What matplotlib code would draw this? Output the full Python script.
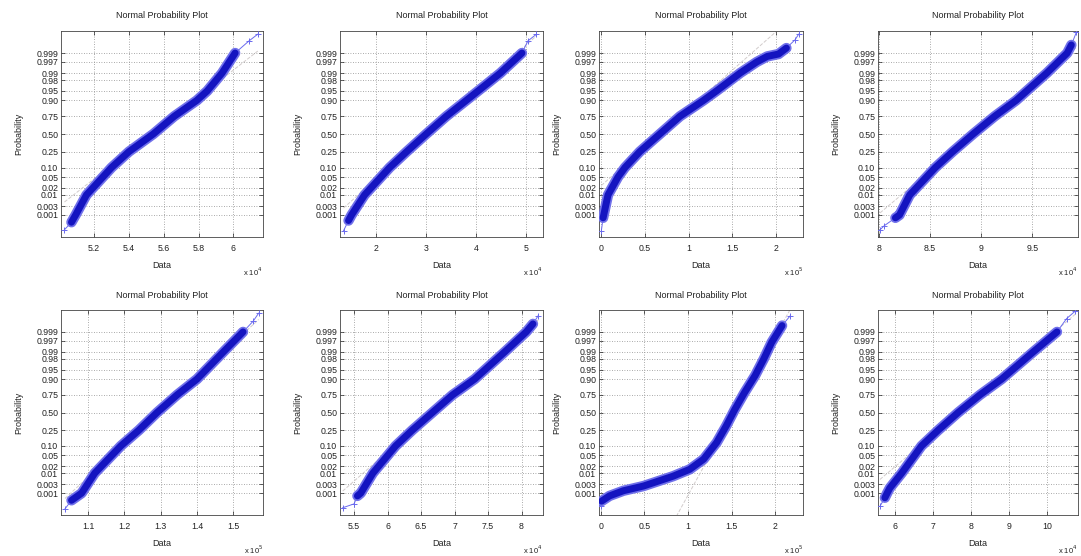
import matplotlib
matplotlib.use('Agg')
import matplotlib.pyplot as plt
import numpy as np
from statistics import NormalDist

plt.rcParams['font.family'] = ['Liberation Sans', 'DejaVu Sans']

# ---------------- data ----------------
prob_ticks = [0.001, 0.003, 0.01, 0.02, 0.05, 0.10, 0.25, 0.50, 0.75, 0.90, 0.95, 0.98, 0.99, 0.997, 0.999]
prob_labels = ['0.001', '0.003', '0.01', '0.02', '0.05', '0.10', '0.25', '0.50', '0.75', '0.90',
               '0.95', '0.98', '0.99', '0.997', '0.999']

# panel 1 (x 10^4)
p1_prob = [0.00013, 0.00038, 0.001, 0.01, 0.10, 0.25, 0.50, 0.75, 0.90, 0.95, 0.99, 0.999, 0.99981, 0.99993]
p1_data = [5.03, 5.07, 5.094, 5.156, 5.30, 5.40, 5.54, 5.66, 5.79, 5.85, 5.935, 6.01, 6.09, 6.14]
# panel 2 (x 10^4)
p2_prob = [0.00011, 0.00048, 0.001, 0.01, 0.10, 0.25, 0.50, 0.75, 0.90, 0.99, 0.999, 0.99981, 0.99993]
p2_data = [1.35, 1.45, 1.51, 1.77, 2.27, 2.61, 3.00, 3.40, 3.80, 4.48, 4.91, 5.03, 5.20]
# panel 3 (x 10^5)
p3_prob = [0.00011, 0.00069, 0.001, 0.01, 0.05, 0.10, 0.25, 0.50, 0.75, 0.90, 0.95, 0.99, 0.997,
           0.99846, 0.99886, 0.99948, 0.99984, 0.99993]
p3_data = [0.00, 0.02, 0.027, 0.076, 0.19, 0.27, 0.44, 0.67, 0.90, 1.17, 1.32, 1.59, 1.78,
           1.90, 2.03, 2.12, 2.22, 2.26]
# panel 4 (x 10^4)
p4_prob = [0.00013, 0.00023, 0.00069, 0.001, 0.01, 0.10, 0.25, 0.50, 0.75, 0.90, 0.99, 0.999, 0.99966, 0.99995]
p4_data = [8.01, 8.05, 8.16, 8.20, 8.30, 8.55, 8.72, 8.92, 9.13, 9.34, 9.64, 9.84, 9.88, 9.93]
# panel 5 (x 10^5)
p5_prob = [0.00011, 0.00038, 0.001, 0.01, 0.10, 0.25, 0.50, 0.75, 0.90, 0.99, 0.999, 0.99977, 0.99993]
p5_data = [1.036, 1.054, 1.082, 1.118, 1.19, 1.24, 1.29, 1.345, 1.40, 1.473, 1.527, 1.555, 1.57]
# panel 6 (x 10^4)
p6_prob = [0.00013, 0.00023, 0.00069, 0.001, 0.01, 0.10, 0.25, 0.50, 0.75, 0.90, 0.99, 0.999, 0.99966, 0.9999]
p6_data = [5.33, 5.50, 5.55, 5.60, 5.78, 6.12, 6.37, 6.67, 6.97, 7.30, 7.75, 8.07, 8.17, 8.25]
# panel 7 (x 10^5)
p7_prob = [0.00016, 0.00034, 0.00069, 0.00135, 0.0024, 0.0073, 0.0146, 0.0367, 0.125, 0.305, 0.552,
           0.779, 0.921, 0.980, 0.9964, 0.99957, 0.99989]
p7_data = [0.00, 0.01, 0.10, 0.26, 0.49, 0.83, 1.02, 1.18, 1.33, 1.44, 1.54,
           1.65, 1.77, 1.87, 1.96, 2.08, 2.17]
# panel 8 (x 10^4)
p8_prob = [0.00016, 0.00054, 0.001, 0.0019, 0.01, 0.10, 0.25, 0.50, 0.75, 0.90, 0.99, 0.999, 0.99984, 0.99995]
p8_data = [5.61, 5.74, 5.80, 5.87, 6.18, 6.70, 7.14, 7.66, 8.23, 8.80, 9.63, 10.25, 10.50, 10.73]

panels = [
    dict(prob=p1_prob, data=p1_data, exp=4, xlim=(5.01, 6.17), xt=[5.2, 5.4, 5.6, 5.8, 6.0],
         xl=['5.2', '5.4', '5.6', '5.8', '6']),
    dict(prob=p2_prob, data=p2_data, exp=4, xlim=(1.28, 5.33), xt=[2, 3, 4, 5],
         xl=['2', '3', '4', '5']),
    dict(prob=p3_prob, data=p3_data, exp=5, xlim=(-0.027, 2.31), xt=[0, 0.5, 1, 1.5, 2],
         xl=['0', '0.5', '1', '1.5', '2']),
    dict(prob=p4_prob, data=p4_data, exp=4, xlim=(7.99, 9.945), xt=[8, 8.5, 9, 9.5],
         xl=['8', '8.5', '9', '9.5']),
    dict(prob=p5_prob, data=p5_data, exp=5, xlim=(1.025, 1.582), xt=[1.1, 1.2, 1.3, 1.4, 1.5],
         xl=['1.1', '1.2', '1.3', '1.4', '1.5']),
    dict(prob=p6_prob, data=p6_data, exp=4, xlim=(5.29, 8.32), xt=[5.5, 6, 6.5, 7, 7.5, 8],
         xl=['5.5', '6', '6.5', '7', '7.5', '8']),
    dict(prob=p7_prob, data=p7_data, exp=5, xlim=(-0.02, 2.32), xt=[0, 0.5, 1, 1.5, 2],
         xl=['0', '0.5', '1', '1.5', '2']),
    dict(prob=p8_prob, data=p8_data, exp=4, xlim=(5.56, 10.8), xt=[6, 7, 8, 9, 10],
         xl=['6', '7', '8', '9', '10']),
]

# ---------------- drawing ----------------
nd = NormalDist()
def zq(p):
    return nd.inv_cdf(p)

W, H = 1081, 556
fig = plt.figure(figsize=(W / 100, H / 100), dpi=100)

lefts = [61, 340, 599, 878]
widths = [202, 203, 204, 200]
row_top = [31, 310]
row_h = [206, 205]

blue = '#1414c0'
for i, pn in enumerate(panels):
    r, c = divmod(i, 4)
    ax = fig.add_axes([lefts[c] / W, 1 - (row_top[r] + row_h[r]) / H, widths[c] / W, row_h[r] / H])
    ax.set_ylim(-3.93, 3.93)
    ax.set_xlim(*pn['xlim'])

    ax.set_yticks([zq(p) for p in prob_ticks])
    ax.set_yticklabels(prob_labels)
    ax.set_xticks(pn['xt'])
    ax.set_xticklabels(pn['xl'])

    ax.grid(True, linestyle=(0, (1, 2)), color='#8e8e8e', linewidth=0.6)
    ax.set_axisbelow(True)
    ax.tick_params(direction='in', length=3, width=0.5, labelsize=6.3, top=True, right=True,
                   pad=2, colors='#222222')
    ax.tick_params(axis='x', pad=5)
    for s in ax.spines.values():
        s.set_linewidth(0.6)
        s.set_color('#444444')

    probs = np.array(pn['prob'])
    xs = np.array(pn['data'])
    zs = np.array([zq(p) for p in probs])

    # reference line through quartiles (as normplot does)
    q1 = np.interp(zq(0.25), zs, xs)
    q3 = np.interp(zq(0.75), zs, xs)
    slope = (zq(0.75) - zq(0.25)) / (q3 - q1)
    xr = np.array([xs.min(), xs.max()])
    ax.plot(xr, zq(0.25) + slope * (xr - q1), linestyle='--', color='#d2cccc', linewidth=0.7, zorder=2)

    # thin tails with markers
    ax.plot(xs, zs, color='#6a6aee', linewidth=0.7, marker='+', markersize=4,
            markeredgewidth=0.7, zorder=3)
    # dense band
    bulk = (probs >= 0.0003) & (probs <= 0.9997)
    ax.plot(xs[bulk], zs[bulk], color='#7070ea', linewidth=7.5, solid_capstyle='round',
            solid_joinstyle='round', zorder=4)
    ax.plot(xs[bulk], zs[bulk], color=blue, linewidth=5, solid_capstyle='round',
            solid_joinstyle='round', zorder=5)

    ax.set_title('Normal Probability Plot', fontsize=6.5, pad=9, color='#222222')
    ax.set_xlabel('Data', fontsize=6.5, labelpad=6, color='#222222')
    ax.set_ylabel('Probability', fontsize=6.5, labelpad=9, color='#222222')
    ax.text(1.0, -0.14, r'x 10$^{%d}$' % pn['exp'], transform=ax.transAxes, ha='right', va='top',
            fontsize=5.5, color='#222222')

fig.savefig('out.png', dpi=100)
